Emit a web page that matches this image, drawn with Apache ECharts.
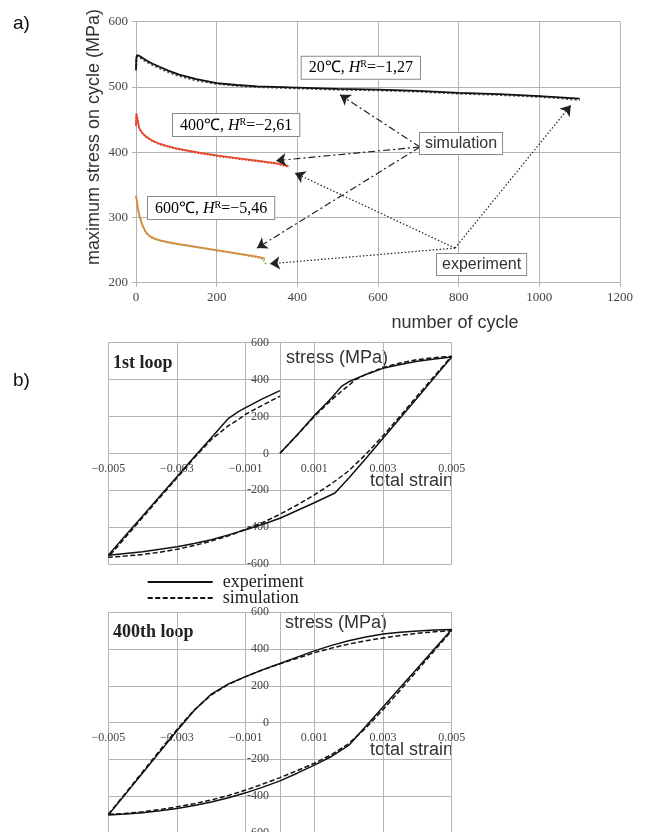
<!DOCTYPE html>
<html>
<head>
<meta charset="utf-8">
<script src="https://cdn.jsdelivr.net/npm/echarts@6/dist/echarts.min.js"></script>
<style>html,body{margin:0;padding:0;background:#fff}#c{width:651px;height:832px}</style>
</head>
<body>
<div id="c"></div>
<script>
// ---------- Panel a: maximum stress vs number of cycles ----------
const cycleTicks = [0, 200, 400, 600, 800, 1000, 1200];
const stressTicksA = [200, 300, 400, 500, 600];
const sim20 = [[0,527],[1,545],[3,549],[10,547],[25,541],[40,536],[58,531],[80,525],[107,519],[150,512],[200,506],[250,503],[300,501],[400,499],[500,497],[600,496],[700,494],[800,491],[900,489],[1000,486],[1050,484],[1100,482]];
const exp20 = [[0,525],[1,543],[3,547],[10,545],[25,539],[40,534],[58,529],[80,523],[107,517],[150,510],[200,505],[250,502],[300,500],[400,498],[500,496],[600,495],[700,493],[800,490],[900,488],[1000,485],[1050,483],[1100,480]];
const sim400 = [[0,440],[1,458],[3,455],[8,437],[15,430],[25,424],[40,418],[58,413],[80,409],[100,406],[150,400],[200,395],[250,391],[300,387],[350,383],[378,379]];
const exp400 = [[0,442],[1,460],[3,454],[8,436],[15,429],[25,423],[40,417],[58,412],[80,408],[100,405],[150,399],[200,394],[250,390],[300,386],[350,382],[380,377]];
const sim600 = [[0,334],[3,322],[6,310],[10,300],[15,290],[20,283],[25,277],[35,271],[45,268],[60,265],[80,262],[100,260],[150,255],[200,250],[250,245],[300,240],[320,237]];
const exp600 = [[0,332],[3,320],[6,308],[10,298],[15,289],[20,282],[25,276],[35,270],[45,267],[60,264],[80,261],[100,259],[150,254],[200,249],[250,244],[300,239],[315,236],[320,231],[322,228]];
// annotation arrows (data coords): [from, to]
const simArrows = [[[704,408],[506,488]],[[704,408],[347,387]],[[704,408],[300,253]]];
const expArrows = [[[791,253],[394,368]],[[791,253],[332,229]],[[791,253],[1078,472]]];

// ---------- Panel b: hysteresis loops ----------
const strainTicks = ['−0.005','−0.003','−0.001','0.001','0.003','0.005'];
const stressTicksB = [-600,-400,-200,0,200,400,600];
const exp1st = [[0,0],[0.0005,100],[0.001,205],[0.0015,300],[0.0018,365],[0.002,388],[0.0025,428],[0.003,461],[0.0035,482],[0.004,500],[0.0045,512],[0.005,522],
  [0.0045,412],[0.004,302],[0.0035,192],[0.003,82],[0.0025,-28],[0.002,-135],[0.0016,-215],[0.001,-268],[0.0005,-310],[0,-352],[-0.0005,-384],[-0.001,-414],[-0.0015,-442],[-0.002,-468],[-0.0025,-489],[-0.003,-506],[-0.0035,-520],[-0.004,-533],[-0.0045,-543],[-0.005,-553],
  [-0.0045,-446],[-0.004,-340],[-0.0035,-233],[-0.003,-127],[-0.0025,-20],[-0.002,85],[-0.0015,190],[-0.0012,228],[-0.001,248],[-0.0005,297],[0,340]];
const sim1st = [[0,0],[0.0005,100],[0.001,200],[0.0015,290],[0.0018,338],[0.002,368],[0.0022,400],[0.0025,428],[0.003,465],[0.0035,490],[0.004,508],[0.0045,519],[0.005,527],
  [0.0045,420],[0.004,312],[0.0035,202],[0.003,95],[0.0025,-5],[0.002,-95],[0.0015,-165],[0.001,-225],[0.0005,-280],[0,-330],[-0.0005,-375],[-0.001,-412],[-0.0015,-447],[-0.002,-476],[-0.0025,-500],[-0.003,-520],[-0.0035,-536],[-0.004,-548],[-0.0045,-557],[-0.005,-563],
  [-0.0045,-455],[-0.004,-348],[-0.0035,-240],[-0.003,-133],[-0.0025,-25],[-0.002,75],[-0.0015,150],[-0.0012,185],[-0.001,212],[-0.0005,262],[0,310]];
const exp400th = [[-0.005,-504],[-0.0045,-390],[-0.004,-275],[-0.0035,-160],[-0.003,-45],[-0.0025,65],[-0.002,155],[-0.0015,210],[-0.001,250],[-0.0005,288],[0,321],[0.0005,356],[0.001,390],[0.0015,420],[0.002,445],[0.0025,465],[0.003,482],[0.0035,492],[0.004,498],[0.0045,503],[0.005,506],
  [0.0045,401],[0.004,296],[0.0035,190],[0.003,85],[0.0025,-20],[0.002,-125],[0.0015,-185],[0.001,-232],[0.0005,-276],[0,-318],[-0.0005,-352],[-0.001,-383],[-0.0015,-410],[-0.002,-433],[-0.0025,-452],[-0.003,-468],[-0.0035,-481],[-0.004,-491],[-0.0045,-498],[-0.005,-504]];
const sim400th = [[-0.005,-500],[-0.0045,-385],[-0.004,-268],[-0.0035,-152],[-0.003,-38],[-0.0025,68],[-0.002,150],[-0.0015,208],[-0.001,250],[-0.0005,287],[0,320],[0.0005,350],[0.001,380],[0.0015,405],[0.002,427],[0.0025,445],[0.003,460],[0.0035,474],[0.004,486],[0.0045,494],[0.005,500],
  [0.0045,392],[0.004,284],[0.0035,176],[0.003,70],[0.0025,-30],[0.002,-115],[0.0015,-175],[0.001,-222],[0.0005,-262],[0,-300],[-0.0005,-335],[-0.001,-368],[-0.0015,-397],[-0.002,-422],[-0.0025,-442],[-0.003,-459],[-0.0035,-474],[-0.004,-486],[-0.0045,-495],[-0.005,-500]];

const SANS = 'Liberation Sans', SERIF = 'Liberation Serif';
const gridCol = '#b4b4b4', labCol = '#444';
const GB = [
  {left: 108.3, top: 342.7, width: 343.4, height: 221.3, outerBoundsMode: 'none', containLabel: false},
  {left: 108.3, top: 612.3, width: 343.4, height: 220.4, outerBoundsMode: 'none', containLabel: false}
];

function axisA() {
  return {
    axisLine: {show: true, lineStyle: {color: gridCol}},
    axisTick: {show: true, length: 4, lineStyle: {color: gridCol}},
    splitLine: {show: true, lineStyle: {color: gridCol, width: 1}},
    axisLabel: {fontFamily: SERIF, fontSize: 13, color: labCol, margin: 8, formatter: v => String(v)}
  };
}
// axes of panel b cross at the origin (centre of the symmetric ranges)
function xB(idx) {
  return {
    type: 'value', gridIndex: idx, min: -0.005, max: 0.005, interval: 0.002,
    position: 'bottom', offset: -GB[idx - 1].height / 2,
    axisLine: {show: true, onZero: false, lineStyle: {color: gridCol}},
    axisTick: {show: false},
    splitLine: {show: true, lineStyle: {color: gridCol}},
    axisLabel: {fontFamily: SERIF, fontSize: 12, color: labCol, margin: 9,
      formatter: v => { const i = Math.round((v + 0.005) / 0.002); return strainTicks[i] || ''; }}
  };
}
function yB(idx) {
  return {
    type: 'value', gridIndex: idx, min: stressTicksB[0], max: stressTicksB[stressTicksB.length - 1], interval: 200,
    position: 'left', offset: -GB[idx - 1].width / 2,
    axisLine: {show: true, onZero: false, lineStyle: {color: gridCol}},
    axisTick: {show: false},
    splitLine: {show: true, lineStyle: {color: gridCol}},
    axisLabel: {fontFamily: SERIF, fontSize: 12, color: labCol, margin: 11,
      formatter: v => (v < 0 ? '-' + Math.abs(v) : String(v))}
  };
}
function line(name, data, xi, color, width, type, z) {
  return {type: 'line', name, data, xAxisIndex: xi, yAxisIndex: xi, symbol: 'none', showSymbol: false,
    lineStyle: {color, width, type}, itemStyle: {color}, z: z || 2, silent: true};
}
function arrows(list, type) {
  return list.map(p => [{coord: p[0], lineStyle: {type}}, {coord: p[1]}]);
}

const chart = echarts.init(document.getElementById('c'), null, {renderer: 'canvas'});
const simA = line('sim 20', sim20, 0, '#111', 1.8, 'solid', 4);
simA.markLine = {
  silent: true, animation: false, symbol: ['none', 'arrow'], symbolSize: 10,
  label: {show: false},
  lineStyle: {color: '#222', width: 1.2},
  data: arrows(simArrows, [7, 3, 2, 3]).concat(arrows(expArrows, [1.5, 2]))
};

const richBox = {
  n: {fontFamily: SERIF, fontSize: 16, color: '#222'},
  i: {fontFamily: SERIF, fontSize: 16, fontStyle: 'italic', color: '#222'},
  s: {fontFamily: SERIF, fontSize: 10, color: '#222', verticalAlign: 'top', padding: [0, 0, 7, 0]}
};
function box(x, y, t, hr) {
  return {type: 'text', x, y, z: 10, style: {
    text: '{n|' + t + ', }{i|H}{s|R}{n|=−' + hr + '}', rich: richBox,
    backgroundColor: '#fff', borderColor: '#8a8a8a', borderWidth: 1, padding: [3, 7, 2, 7]}};
}
function sbox(x, y, t) {
  return {type: 'text', x, y, z: 10, style: {text: t, fontFamily: SANS, fontSize: 16, fill: '#333',
    backgroundColor: '#fff', borderColor: '#8a8a8a', borderWidth: 1, padding: [3, 5, 2, 5]}};
}

chart.setOption({
  animation: false,
  backgroundColor: '#fff',
  grid: [{left: 136, top: 21.7, width: 484, height: 261, outerBoundsMode: 'none', containLabel: false}, GB[0], GB[1]],
  xAxis: [
    Object.assign({type: 'value', gridIndex: 0, min: cycleTicks[0], max: cycleTicks[cycleTicks.length - 1], interval: 200}, axisA()),
    xB(1), xB(2)
  ],
  yAxis: [
    Object.assign({type: 'value', gridIndex: 0, min: stressTicksA[0], max: stressTicksA[stressTicksA.length - 1], interval: 100}, axisA()),
    yB(1), yB(2)
  ],
  legend: {
    data: ['experiment', 'simulation'], orient: 'vertical', left: 141.7, top: 568,
    itemWidth: 65, itemHeight: 14, itemGap: -2, selectedMode: false,
    itemStyle: {color: 'rgba(0,0,0,0)', borderColor: 'rgba(0,0,0,0)', borderWidth: 0},
    textStyle: {fontFamily: SERIF, fontSize: 18, lineHeight: 17, color: '#222', padding: [0, 0, 0, 5]}
  },
  series: [
    line('exp 20', exp20, 0, '#555', 2.2, 'dotted', 3),
    simA,
    line('exp 400', exp400, 0, '#b8321e', 1.6, 'dotted', 3),
    line('sim 400', sim400, 0, '#ea4a2c', 1.8, 'solid', 4),
    line('exp 600', exp600, 0, '#7cb342', 1.6, 'dotted', 3),
    line('sim 600', sim600, 0, '#d88a3e', 1.8, 'solid', 4),
    line('experiment', exp1st, 1, '#111', 1.5, 'solid', 4),
    line('simulation', sim1st, 1, '#111', 1.5, [5, 2.5], 3),
    line('experiment', exp400th, 2, '#111', 1.5, 'solid', 4),
    line('simulation', sim400th, 2, '#111', 1.5, [5, 2.5], 3)
  ],
  graphic: [
    {type: 'text', x: 13, y: 14, style: {text: 'a)', fontFamily: SANS, fontSize: 19, fill: '#111'}},
    {type: 'text', x: 13, y: 371, style: {text: 'b)', fontFamily: SANS, fontSize: 19, fill: '#111'}},
    {type: 'text', x: 94, y: 137, rotation: Math.PI / 2, style: {text: 'maximum stress on cycle (MPa)', fontFamily: SANS, fontSize: 18, fill: '#333', align: 'center', verticalAlign: 'middle'}},
    {type: 'text', x: 455, y: 323, style: {text: 'number of cycle', fontFamily: SANS, fontSize: 18, fill: '#333', align: 'center', verticalAlign: 'middle'}},
    box(301.7, 56.7, '20℃', '1,27'),
    box(173, 114, '400℃', '2,61'),
    box(148, 197, '600℃', '5,46'),
    sbox(420, 133, 'simulation'),
    sbox(437, 254, 'experiment'),
    {type: 'text', x: 113, y: 354, style: {text: '1st loop', fontFamily: SERIF, fontSize: 18, fontWeight: 'bold', fill: '#222'}},
    {type: 'text', x: 286, y: 349, style: {text: 'stress (MPa)', fontFamily: SANS, fontSize: 18, fill: '#333'}},
    {type: 'text', x: 370, y: 472, style: {text: 'total strain', fontFamily: SANS, fontSize: 18, fill: '#333'}},
    {type: 'text', x: 113, y: 623, style: {text: '400th loop', fontFamily: SERIF, fontSize: 18, fontWeight: 'bold', fill: '#222'}},
    {type: 'text', x: 285, y: 614, style: {text: 'stress (MPa)', fontFamily: SANS, fontSize: 18, fill: '#333'}},
    {type: 'text', x: 370, y: 741, style: {text: 'total strain', fontFamily: SANS, fontSize: 18, fill: '#333'}}
  ]
});
</script>
</body>
</html>
